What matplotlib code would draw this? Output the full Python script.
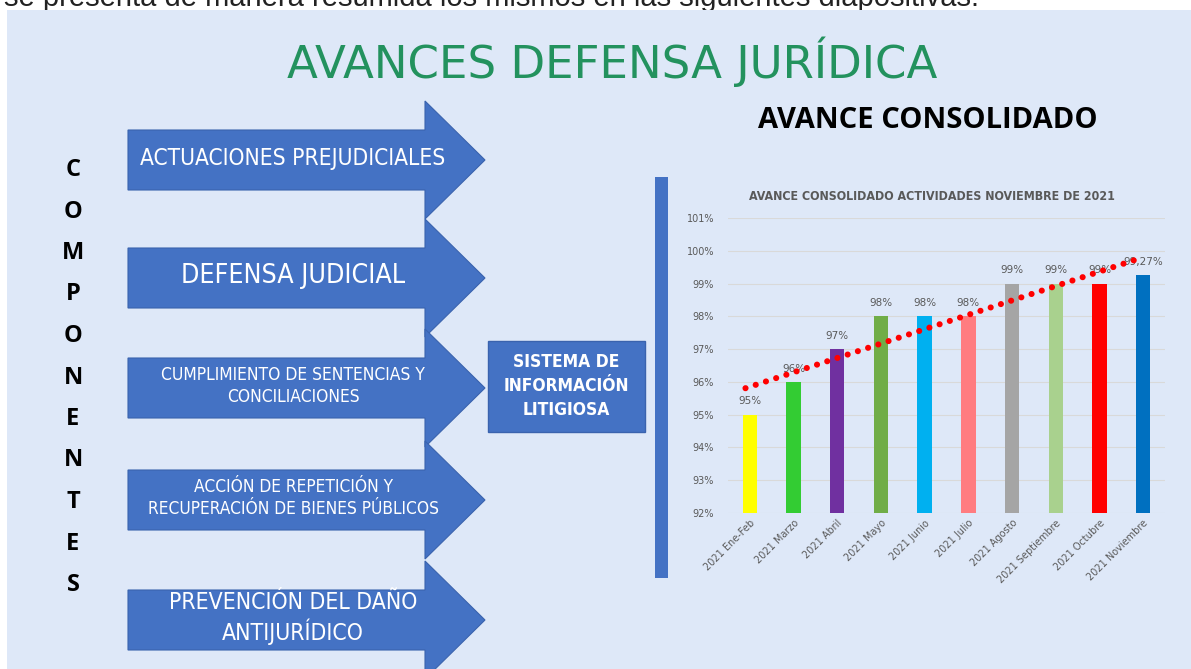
import numpy as np
import matplotlib.pyplot as plt
from matplotlib.patches import Polygon, Rectangle

# chart data
meses = ['2021 Ene-Feb', '2021 Marzo', '2021 Abril', '2021 Mayo', '2021 Junio',
         '2021 Julio', '2021 Agosto', '2021 Septiembre', '2021 Octubre', '2021 Noviembre']
avance = [95, 96, 97, 98, 98, 98, 99, 99, 99, 99.27]
etiquetas = ['95%', '96%', '97%', '98%', '98%', '98%', '99%', '99%', '99%', '99,27%']
colores = ['#FFFF00', '#33CC33', '#7030A0', '#70AD47', '#00B0F0',
           '#FF7C80', '#A5A5A5', '#A9D18E', '#FF0000', '#0070C0']

componentes = ['ACTUACIONES PREJUDICIALES',
               'DEFENSA JUDICIAL',
               'CUMPLIMIENTO DE SENTENCIAS Y\nCONCILIACIONES',
               'ACCIÓN DE REPETICIÓN Y\nRECUPERACIÓN DE BIENES PÚBLICOS',
               'PREVENCIÓN DEL DAÑO\nANTIJURÍDICO']
comp_size = [16.3, 19.2, 12.5, 12.4, 16.5]

W, H = 1191, 669
fig = plt.figure(figsize=(W / 100, H / 100), dpi=100)
fig.patch.set_facecolor('white')

# full-figure canvas in pixel coordinates
bg = fig.add_axes([0, 0, 1, 1])
bg.set_xlim(0, W)
bg.set_ylim(H, 0)
bg.axis('off')

blue = '#4472C4'

bg.text(4, 5.5, 'se presenta de manera resumida los mismos en las siguientes diapositivas.',
        fontsize=21, family='Liberation Sans', color='#222222', va='baseline', zorder=0.5)
bg.add_patch(Rectangle((7, 10), W - 7, H - 10, facecolor='#DEE8F8', edgecolor='none', zorder=1))

bg.text(612, 62, 'AVANCES DEFENSA JURÍDICA', fontsize=32.5, color='#23925E',
        ha='center', va='center', family='DejaVu Sans', zorder=3)

bg.text(928, 120, 'AVANCE CONSOLIDADO', fontsize=21, fontweight='bold', color='black',
        ha='center', va='center', family='Open Sans', zorder=3)

# vertical word
for i, ch in enumerate('COMPONENTES'):
    bg.text(73, 170 + i * 41.5, ch, fontsize=17, fontweight='bold', ha='center',
            va='center', family='Open Sans', zorder=3)

# arrows
centros = [160, 278, 388, 500, 620]
for c, txt, fs in zip(centros, componentes, comp_size):
    pts = [(128, c - 30), (425, c - 30), (425, c - 59), (485, c), (425, c + 59),
           (425, c + 30), (128, c + 30)]
    bg.add_patch(Polygon(pts, closed=True, facecolor=blue, edgecolor='#3A63AE',
                         linewidth=0.8, zorder=2))
    bg.text(293, c - 2, txt, fontsize=fs, color='white', ha='center', va='center',
            family='DejaVu Sans', fontstretch='condensed', linespacing=1.22, zorder=3)

bg.add_patch(Rectangle((488, 341), 157, 91, facecolor=blue, edgecolor='#3A63AE', zorder=2))
bg.text(566, 386, 'SISTEMA DE\nINFORMACIÓN\nLITIGIOSA', fontsize=12.5, fontweight='bold',
        color='white', ha='center', va='center', family='DejaVu Sans',
        fontstretch='condensed', linespacing=1.45, zorder=3)

bg.add_patch(Rectangle((655, 177), 13, 401, facecolor=blue, edgecolor='none', zorder=2))

# bar chart
ax = fig.add_axes([728 / W, 1 - 513 / H, 437 / W, 295 / H])
ax.set_facecolor('none')
x = np.arange(len(meses))
ax.bar(x, avance, width=0.33, color=colores, zorder=2)
for xi, v, lab in zip(x, avance, etiquetas):
    ax.text(xi, v + 0.25, lab, ha='center', va='bottom', fontsize=7.5, color='#595959')

coef = np.polyfit(x, avance, 1)
xt = np.linspace(-0.1, 9, 2)
ax.plot(xt, np.polyval(coef, xt), color='#FF0000', linestyle=(0, (0.01, 1.75)),
        linewidth=4.4, dash_capstyle='round', zorder=3)

ax.set_xlim(-0.5, 9.5)
ax.set_ylim(92, 101)
ax.set_yticks(range(92, 102))
ax.set_yticklabels([f'{v}%' for v in range(92, 102)])
ax.set_xticks(x)
ax.set_xticklabels(meses, rotation=45, ha='right', rotation_mode='anchor')
ax.tick_params(axis='both', length=0, labelsize=7, colors='#595959')
ax.tick_params(axis='y', pad=10)
ax.grid(axis='y', color='#D9D9D9', linewidth=0.8, zorder=0)
for s in ax.spines.values():
    s.set_visible(False)
ax.set_title('AVANCE CONSOLIDADO ACTIVIDADES NOVIEMBRE DE 2021', fontsize=8.9,
             fontweight='bold', color='#595959', pad=13, x=(932 - 728) / 437,
             family='DejaVu Sans', fontstretch='condensed')

fig.savefig('out.png', dpi=100)
